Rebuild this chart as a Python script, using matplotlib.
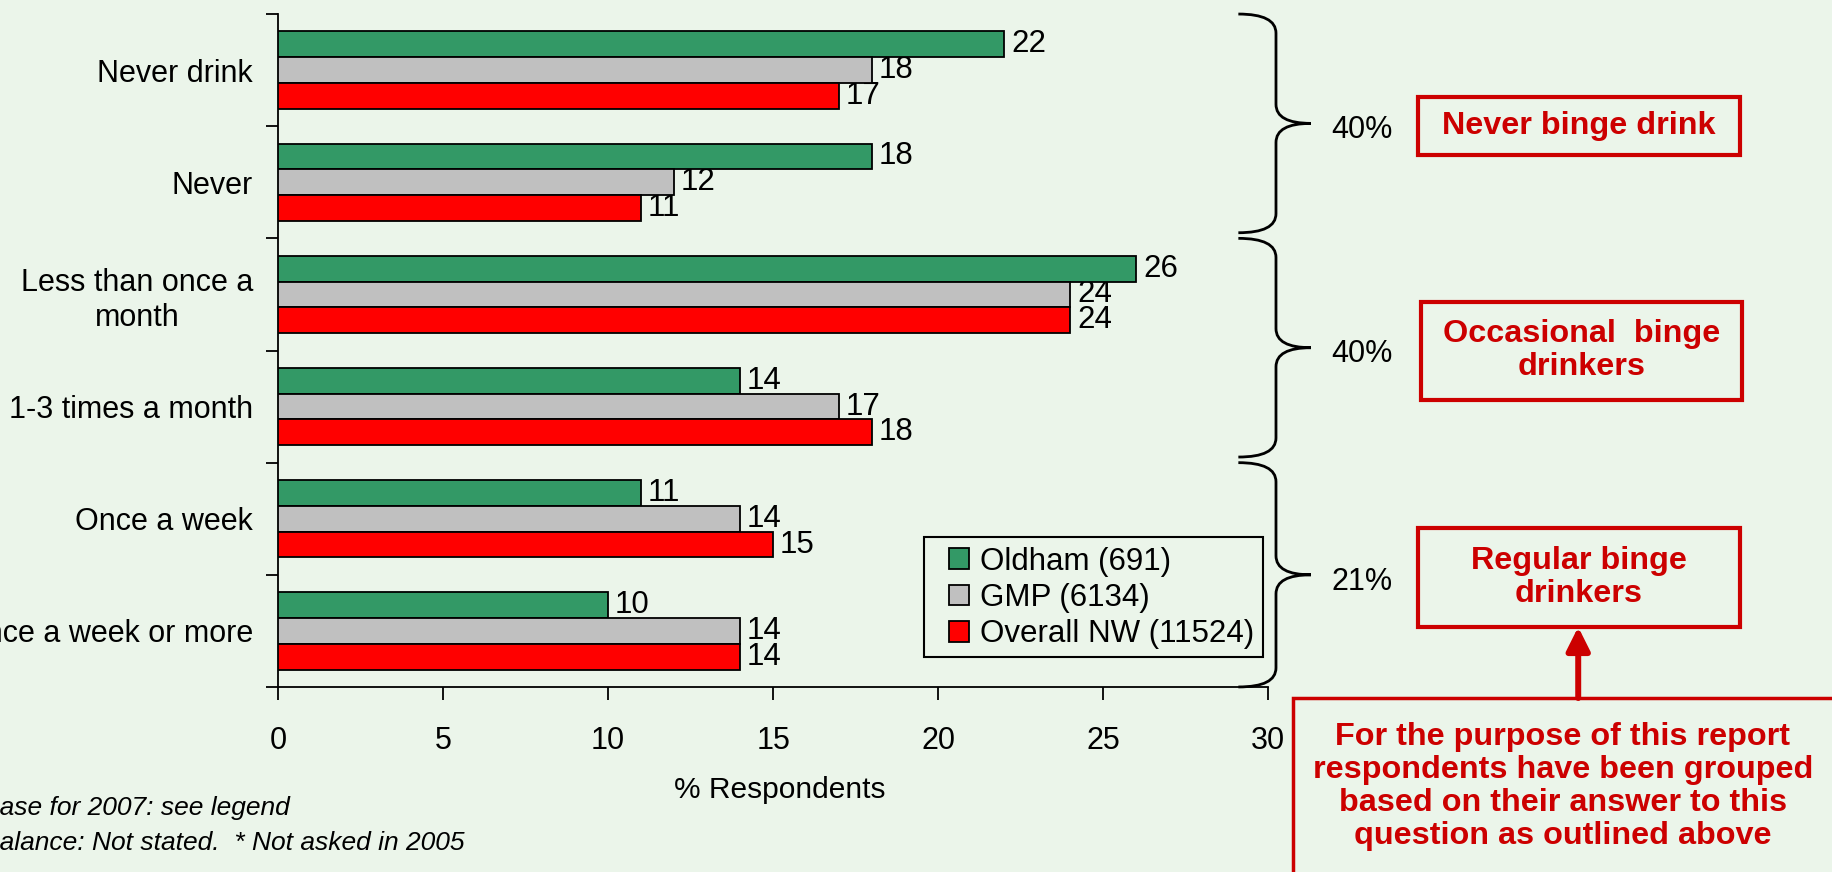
import numpy as np
import matplotlib
matplotlib.use("Agg")
import matplotlib.pyplot as plt
from matplotlib.path import Path
from matplotlib.patches import PathPatch, Rectangle, FancyArrowPatch

plt.rcParams['font.family'] = ['Liberation Sans', 'DejaVu Sans']

categories = ["Never drink", "Never", "Less than once a\nmonth",
              "1-3 times a month", "Once a week", "Once a week or more"]
series = ["Oldham (691)", "GMP (6134)", "Overall NW (11524)"]
oldham = [22, 18, 26, 14, 11, 10]
gmp = [18, 12, 24, 17, 14, 14]
overall_nw = [17, 11, 24, 18, 15, 14]
colors = ["#339966", "#C0C0C0", "#FF0000"]

group_pcts = ["40%", "40%", "21%"]
group_spans = [(-0.5, 1.45), (1.5, 3.45), (3.5, 5.5)]
group_names = ["Never binge drink", "Occasional  binge\ndrinkers", "Regular binge\ndrinkers"]
note = ("For the purpose of this report\nrespondents have been grouped\n"
        "based on their answer to this\nquestion as outlined above")
footnotes = ["Base for 2007: see legend", "Balance: Not stated.  * Not asked in 2005"]

bg = "#EBF5EA"
dark_red = "#CC0000"

fig = plt.figure(figsize=(18.33, 8.72), dpi=100, facecolor=bg)
ax = fig.add_axes([0.1517, 0.2122, 0.5401, 0.7717])
ax.set_facecolor(bg)

y = np.arange(len(categories))
h = 0.23
for j, (vals, name) in enumerate(zip([oldham, gmp, overall_nw], series)):
    pos = y + (j - 1) * h
    ax.barh(pos, vals, height=h, color=colors[j], edgecolor="black",
            linewidth=1.3, label=name, zorder=3)
    for p, v in zip(pos, vals):
        ax.annotate(str(v), (v, p), xytext=(5, 0), textcoords="offset points",
                    ha="left", va="center", fontsize=22.5, zorder=2)

ax.set_xlim(0, 30)
ax.set_ylim(5.5, -0.5)
ax.set_xticks(np.arange(0, 31, 5))
ax.set_yticks(np.arange(-0.5, 6, 1))
ax.set_yticklabels([])
ax.set_yticks(y, minor=True)
ax.set_yticklabels(categories, minor=True, fontsize=22, multialignment="center")
ax.tick_params(axis="y", which="minor", length=0, pad=18)
ax.tick_params(axis="y", which="major", length=9, width=1.3, direction="out")
ax.tick_params(axis="x", length=9, width=1.3, direction="out", pad=19, labelsize=22)
for s in ["top", "right"]:
    ax.spines[s].set_visible(False)
for s in ["left", "bottom"]:
    ax.spines[s].set_linewidth(1.3)

ax.set_xlabel("% Respondents", fontsize=21.5)
ax.xaxis.set_label_coords(0.507, -0.133)

# legend: frameless, with its own box drawn behind it
ax.add_patch(Rectangle((0.5041, 0.2466), 0.1849, 0.1376, transform=fig.transFigure,
                       facecolor=bg, edgecolor="black", lw=1.5, zorder=5,
                       clip_on=False))
leg = ax.legend(loc="center left", bbox_to_anchor=(0.5177, 0.3142),
                bbox_transform=fig.transFigure, fontsize=22.5, frameon=False,
                handlelength=0.65, handleheight=0.65, handletextpad=0.35,
                labelspacing=0.2, borderpad=0, borderaxespad=0)
leg.set_zorder(6)


def brace(ax, y0, y1, xe=29.1, xv=30.24, xt=31.3, r=0.17):
    ym = (y0 + y1) / 2
    verts = [(xe, y0), (xv, y0), (xv, y0 + r),
             (xv, ym - r), (xv, ym), (xt, ym),
             (xv, ym), (xv, ym + r),
             (xv, y1 - r), (xv, y1), (xe, y1)]
    codes = [Path.MOVETO, Path.CURVE3, Path.CURVE3,
             Path.LINETO, Path.CURVE3, Path.CURVE3,
             Path.CURVE3, Path.CURVE3,
             Path.LINETO, Path.CURVE3, Path.CURVE3]
    ax.add_patch(PathPatch(Path(verts, codes), fill=False, lw=2,
                           edgecolor="black", clip_on=False, zorder=4))
    return ym


for (y0, y1), pct in zip(group_spans, group_pcts):
    ym = brace(ax, y0, y1)
    ax.text(32.85, ym + 0.06, pct, ha="center", va="center", fontsize=22,
            clip_on=False)

# red boxes (figure coords: x0, y0, w, h)
boxes = [(0.7736, 0.8222, 0.1757, 0.0665),
         (0.7752, 0.5413, 0.1751, 0.1124),
         (0.7736, 0.2810, 0.1757, 0.1135)]
for (x0, y0, w, hh), txt in zip(boxes, group_names):
    fig.add_artist(Rectangle((x0, y0), w, hh, transform=fig.transFigure,
                             fill=False, edgecolor=dark_red, lw=3))
    fig.text(x0 + w / 2, y0 + hh / 2, txt, ha="center", va="center",
             fontsize=23.3, fontweight="bold", color=dark_red, linespacing=1.13)

fig.add_artist(Rectangle((0.7054, -0.02), 0.32, 0.2195, transform=fig.transFigure,
                         fill=False, edgecolor=dark_red, lw=2.5))
fig.text(0.8527, 0.098, note, ha="center", va="center", fontsize=23.3,
         fontweight="bold", color=dark_red, linespacing=1.13)

fig.add_artist(FancyArrowPatch((0.861, 0.1995), (0.861, 0.281),
                               transform=fig.transFigure,
                               arrowstyle="-|>,head_length=0.7,head_width=0.35",
                               mutation_scale=20, lw=4.3, color=dark_red,
                               shrinkA=0, shrinkB=0))

fig.text(-0.0098, 0.0734, footnotes[0], ha="left", va="center", fontsize=19,
         style="italic")
fig.text(-0.0098, 0.0333, footnotes[1], ha="left", va="center", fontsize=19,
         style="italic")

fig.savefig("out.png", dpi=100, facecolor=bg)
